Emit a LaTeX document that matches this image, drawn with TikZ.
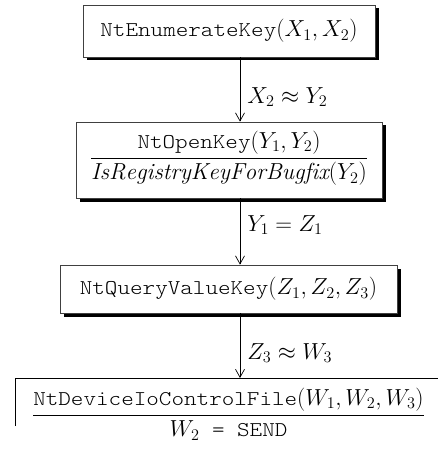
\RequirePackage{fix-cm}
\documentclass[tikz,border=0pt]{standalone}
\usepackage{fontspec}
\newfontfamily\cour[FakeStretch=1.14]{lmmonolt10-regular.otf}
\usetikzlibrary{arrows.meta,shadows}

% function names in a light typewriter face
\newcommand{\fn}[1]{{\fontsize{21}{24}\cour #1}}

\tikzset{
  x=1pt, y=1pt,
  txt/.style={font=\fontsize{23.2}{28}\selectfont, inner sep=0pt},
  shadowbox/.style={draw=black!75, line width=0.8pt, fill=white, inner sep=0pt,
    drop shadow={shadow xshift=3.5pt, shadow yshift=-3.5pt, opacity=1, fill=black}},
  flow/.style={line width=0.7pt, -{Straight Barb[length=8pt,width=9pt]}},
  lbl/.style={font=\fontsize{23.2}{28}\selectfont, anchor=west, inner sep=0pt, xshift=7pt}
}

\begin{document}
\begin{tikzpicture}
  \useasboundingbox (0,0) rectangle (437,-454);
  \coordinate (ax) at (240,0);

  % call chain boxes
  \node[shadowbox, minimum width=292pt, minimum height=52pt] (b1) at (229,-31) {};
  \node[txt] (t1) at (b1.center) {\fn{NtEnumerateKey}$(X_1,X_2)$};

  \node[shadowbox, minimum width=306pt, minimum height=76pt] (b2) at (229,-160) {};
  \node[txt, anchor=base] (t2) at (229,-163.8)
    {$\displaystyle\frac{\hbox{\fn{NtOpenKey}}(Y_1,Y_2)}{\mathit{IsRegistryKeyForBugfix}(Y_2)}$};

  \node[shadowbox, minimum width=337pt, minimum height=48pt] (b3) at (228.5,-289) {};
  \node[txt] (t3) at (b3.center) {\fn{NtQueryValueKey}$(Z_1,Z_2,Z_3)$};

  % last box, running off the page
  \coordinate (b4) at (15,-378);
  \draw[line width=0.8pt] (b4) ++(0,-48) -- (b4) -- ++(430,0);
  \node[txt, anchor=base] (t4) at (228.5,-420.8)
    {$\displaystyle\frac{\hbox{\fn{NtDeviceIoControlFile}}(W_1,W_2,W_3)}{W_2\hbox{\fn{ = SEND}}}$};

  % data-flow arrows
  \draw[flow] (b1.south -| ax) -- node[lbl, pos=0.615] (l1) {$X_2 \approx Y_2$} (b2.north -| ax);
  \draw[flow] (b2.south -| ax) -- node[lbl, pos=0.40] (l2) {$Y_1 = Z_1$} (b3.north -| ax);
  \draw[flow] (b3.south -| ax) -- node[lbl, pos=0.615] (l3) {$Z_3 \approx W_3$} (b4 -| ax);
\end{tikzpicture}
\end{document}
